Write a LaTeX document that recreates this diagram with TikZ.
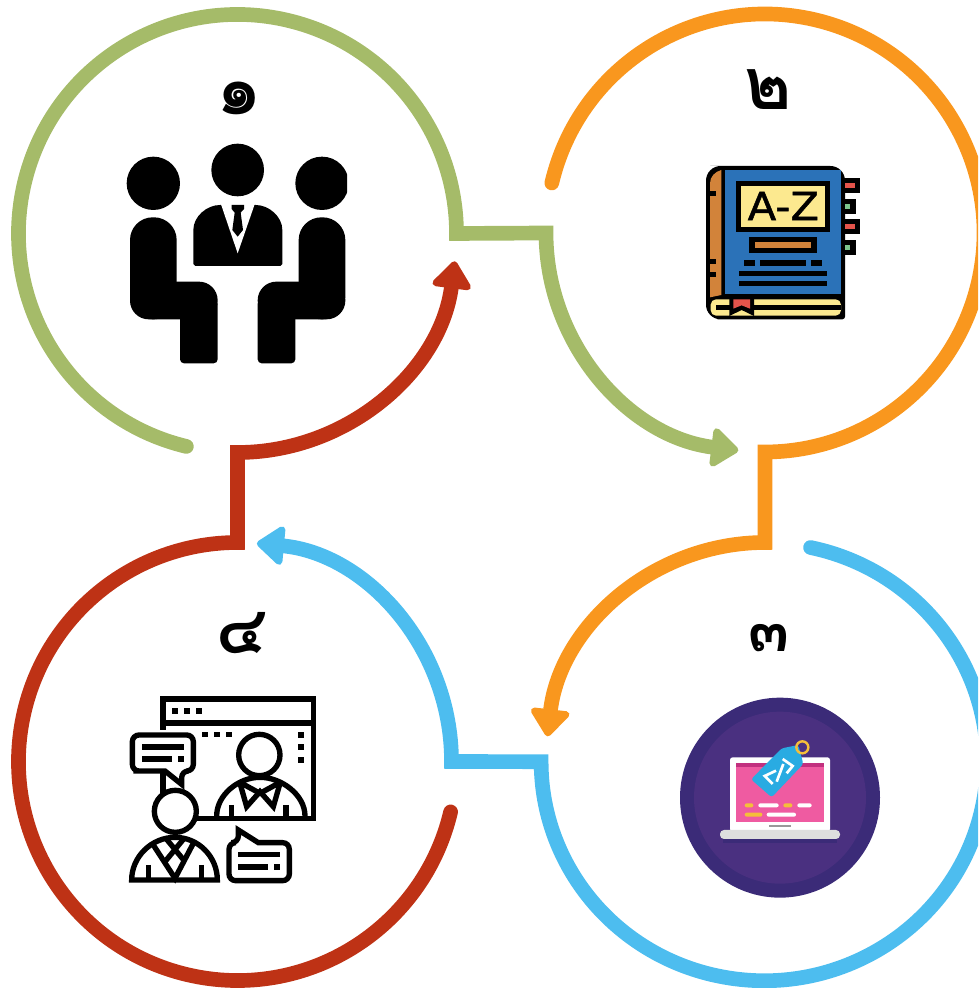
\documentclass[tikz,border=0pt]{standalone}
\usepackage{fontspec}
\usetikzlibrary{calc,arrows.meta}
\newfontfamily\thaifont[Script=Thai]{Loma}
\newfontfamily\azfont[FakeBold=1.2]{DejaVu Sans}

\definecolor{ringgreen}{HTML}{A5BB69}
\definecolor{ringorange}{HTML}{F9971E}
\definecolor{ringblue}{HTML}{4DBDEF}
\definecolor{ringred}{HTML}{BE3215}
\definecolor{bookblue}{HTML}{2B72B8}
\definecolor{bookbrown}{HTML}{D2833A}
\definecolor{bookyellow}{HTML}{FCE98F}
\definecolor{bookred}{HTML}{E5544B}
\definecolor{bookgreen}{HTML}{7CC68D}
\definecolor{lapdark}{HTML}{3B2B78}
\definecolor{lapmid}{HTML}{4A3080}
\definecolor{lappink}{HTML}{EF5BA1}
\definecolor{lapstrip}{HTML}{C2307F}
\definecolor{laptag}{HTML}{29ABE2}
\definecolor{lapgold}{HTML}{F5BE3A}

\tikzset{
    ring/.style={line width=11pt,line cap=round,line join=miter,miter limit=10},
    ringtip/.style={-{Triangle[length=22pt,width=33pt,line width=5pt,round]}},
    numeral/.style={font=\thaifont\bfseries\fontsize{#1}{#1}\selectfont,inner sep=0pt},
    iconline/.style={line width=4pt,line join=miter},
    iconscale/.style={x=.25pt,y=-.25pt},
}

\begin{document}
\begin{tikzpicture}[x=.75pt,y=.75pt]
\clip (0,0) rectangle (978,988);
\useasboundingbox (0,0) rectangle (978,988);

% Variables: 1 := position.
\def\meetingicon(#1){
    \begin{scope}[shift={(#1)},iconscale]
        \clip (0,0) rectangle (711,960);
        \fill (130,370) circle [radius=80];
        \fill (383,330) circle [radius=79];
        \fill (636,370) circle [radius=80];
        \fill[rounded corners=17pt] (60,472) rectangle (200,778);
        \fill[rounded corners=14pt] (60,665) rectangle (323,778);
        \fill[rounded corners=3pt] (210,720) rectangle (323,910);
        \fill[rounded corners=17pt] (566,472) rectangle (706,778);
        \fill[rounded corners=14pt] (443,665) rectangle (706,778);
        \fill[rounded corners=3pt] (443,720) rectangle (556,910);
        \fill (256,618) -- (250,612) -- (250,510) .. controls (250,470) and (290,435) .. (330,435) -- (437,435) .. controls (477,435) and (517,470) .. (517,510) -- (517,612) -- (511,618) -- cycle;
        \fill[white] (332,430) -- (435,430) -- (383,580) -- cycle;
        \fill (365,435) -- (402,435) -- (402,447) -- (392,458) -- (399,510) -- (383,530) -- (367,510) -- (374,458) -- (365,447) -- cycle;
    \end{scope}
}
\def\bookicon(#1){
    \begin{scope}[shift={(#1)},iconscale]
        \fill[rounded corners=2pt] (495,318) -- (495,778) -- (120,778) [rounded corners=11pt] -- (78,778) -- (78,318) -- (135,318) -- cycle;
        \fill[bookbrown] (124,330) -- (124,705) -- (90,712) -- (90,370) .. controls (90,350) and (105,335) .. (124,330) -- cycle;
        \fill (88,393) rectangle (108,407);
        \fill (88,598) rectangle (108,612);
        \fill (88,636) rectangle (108,650);
        \fill[bookblue] (135,330) rectangle (483,703);
        \fill[bookyellow,rounded corners=4pt] (92,718) -- (483,718) -- (483,767) -- (92,767) -- cycle;
        \fill (108,734) rectangle (483,750);
        \fill (148,708) -- (222,708) -- (222,768) -- (185,750) -- (148,768) -- cycle;
        \fill[bookred] (160,718) -- (210,718) -- (210,746) -- (185,736) -- (160,746) -- cycle;
        \foreach \tabtop/\tabin/\tabcol in {355/525/bookred,478/525/bookred,418/511/bookgreen,540/511/bookgreen}{
            \fill (495,\tabtop) rectangle (\tabin+16,\tabtop+45);
            \fill[\tabcol] (495,\tabtop+15) rectangle (\tabin,\tabtop+30);
        }
        \fill (168,362) rectangle (449,515);
        \fill[bookyellow] (184,377) rectangle (434,500);
        \node[inner sep=0pt,xscale=1.08,font=\azfont\fontsize{29pt}{29pt}\selectfont] (az) at (310,438) {A-Z};
        \fill (208,530) rectangle (410,578);
        \fill[bookbrown] (224,546) rectangle (394,564);
        \fill (192,601) rectangle (225,617);
        \fill (240,601) rectangle (378,617);
        \fill (393,601) rectangle (426,617);
        \fill (177,632) rectangle (441,648);
        \fill (177,663) rectangle (441,679);
    \end{scope}
}
\def\laptopicon(#1){
    \begin{scope}[shift={(#1)},iconscale]
        \fill[lapdark] (330,563) circle [radius=300];
        \fill[lapmid] (330,563) circle [radius=258];
        \fill[lapdark] (158,680) rectangle (502,700);
        \fill[white,rounded corners=2pt] (180,442) rectangle (480,665);
        \fill[lappink] (198,460) rectangle (463,635);
        \fill[lapstrip] (198,460) rectangle (463,470);
        \fill[black!40] (298,645) rectangle (362,650);
        \fill[black!13,rounded corners=3pt] (150,660) rectangle (510,687);
        \fill[lapgold,rounded corners=1.5pt] (224,580) rectangle (250,592);
        \fill[white,rounded corners=1.5pt] (265,580) rectangle (326,592);
        \fill[lapgold,rounded corners=1.5pt] (340,580) rectangle (367,592);
        \fill[white,rounded corners=1.5pt] (382,580) rectangle (425,592);
        \fill[lapgold,rounded corners=1.5pt] (224,608) rectangle (277,620);
        \fill[white,rounded corners=1.5pt] (290,608) rectangle (378,620);
        \fill[laptag,rounded corners=2pt] (243,508) -- (335,415) -- (385,405) -- (400,462) -- (305,562) -- cycle;
        \draw[lapgold,line width=1.8pt] (397,412) circle [radius=18];
        \draw[white,line width=2pt,miter limit=10] (318,482) -- (284,498) -- (308,522);
        \draw[white,line width=2pt] (320,515) -- (340,462);
        \draw[white,line width=2pt,miter limit=10] (338,447) -- (368,468) -- (350,490);
    \end{scope}
}
\def\screenicon(#1){
    \begin{scope}[shift={(#1)},iconscale]
        \draw[iconline] (159,390) -- (159,297) -- (610,297) -- (610,655) -- (260,655);
        \draw[iconline] (159,520) -- (159,590);
        \draw[iconline] (159,369) -- (610,369);
        \foreach \dotx in {187,222,259}{\fill (\dotx,325) rectangle ++(17,17);}
        \foreach \dotx in {277,312,348}{\fill (\dotx,395) rectangle ++(17,17);}
        \foreach \doty in {395,432,470}{\fill (563,\doty) rectangle ++(18,18);}
        % person on the screen
        \draw[iconline] (320,648) .. controls (320,585) and (385,532) .. (450,532) .. controls (515,532) and (585,585) .. (585,648);
        \draw[iconline,fill=white] (448,465) circle [radius=62];
        \draw[iconline] (390,550) -- (410,620) -- (450,575) -- (490,620) -- (510,550);
        \draw[iconline] (395,550) -- (450,580) -- (505,550);
        \draw[iconline] (365,615) -- (365,648);
        \draw[iconline] (528,615) -- (528,648);
        % bubble with the tail down
        \draw[iconline,fill=white,rounded corners=5pt] (165,513) -- (90,513) -- (67,513) -- (67,405) -- (250,405) -- (250,513) -- (215,513) [sharp corners] -- (215,553) -- cycle;
        \fill (95,432) rectangle (222,450);
        \fill (95,468) rectangle (185,486);
        \fill (205,468) rectangle (222,486);
        % person in front
        \draw[iconline] (65,840) .. controls (65,770) and (125,712) .. (195,712) .. controls (265,712) and (322,770) .. (322,840) -- cycle;
        \draw[iconline,fill=white] (196,634) circle [radius=63];
        \draw[iconline] (130,735) -- (195,835) -- (250,730);
        \draw[iconline] (170,718) -- (225,785);
        \draw[iconline] (220,718) -- (165,785);
        \draw[iconline] (115,795) -- (115,840);
        \draw[iconline] (275,795) -- (275,840);
        % bubble with the tail up
        \draw[iconline,fill=white,rounded corners=5pt] (385,728) [sharp corners] -- (385,690) -- (445,728) [rounded corners=5pt] -- (538,728) -- (538,842) -- (357,842) -- (357,728) -- cycle;
        \fill (385,755) rectangle (510,772);
        \fill (385,793) rectangle (475,810);
        \fill (493,793) rectangle (510,810);
    \end{scope}
}

% circle centres
\coordinate (C1) at (237.5,754.5);
\coordinate (C2) at (765,755);
\coordinate (C3) at (765,226.5);
\coordinate (C4) at (237.5,226.5);
% where one ring hands over to the next
\coordinate (J2) at ($ (C2) + (180:219) $);
\coordinate (J4) at ($ (C3) + (90:219) $);
\coordinate (J6) at ($ (C4) + (214,0) $);
\coordinate (J8) at ($ (C1) + (270:219) $);

\draw[ring,ringtip,ringgreen] ($ (C1) + (256.5:219) $) arc (256.5:0:219) -- (J2) arc (180:263:219);
\draw[ring,ringtip,ringorange] ($ (C2) + (166.8:219) $) arc (166.8:-90:219) -- (J4) arc (90:173.4:219);
\draw[ring,ringtip,ringblue] ($ (C3) + (45.5,214) $) arc [start angle=78,end angle=-180,x radius=223,y radius=219] -- (J6) arc [start angle=0,end angle=84.8,x radius=214,y radius=219];
\draw[ring,ringtip,ringred] ($ (C4) + (-13.3:219) $) arc (-13.3:-270:219) -- (J8) arc (270:352.7:219);

\node[numeral=54pt] (N1) at (239,890) {๑};
\node[numeral=54pt] (N2) at (768,898) {๒};
\node[numeral=45pt] (N3) at (769,350) {๓};
\node[numeral=50pt] (N4) at (242,355) {๔};

\meetingicon(110,928)
\bookicon(680,928)
\laptopicon(670,378)
\screenicon(110,388)
\end{tikzpicture}
\end{document}
